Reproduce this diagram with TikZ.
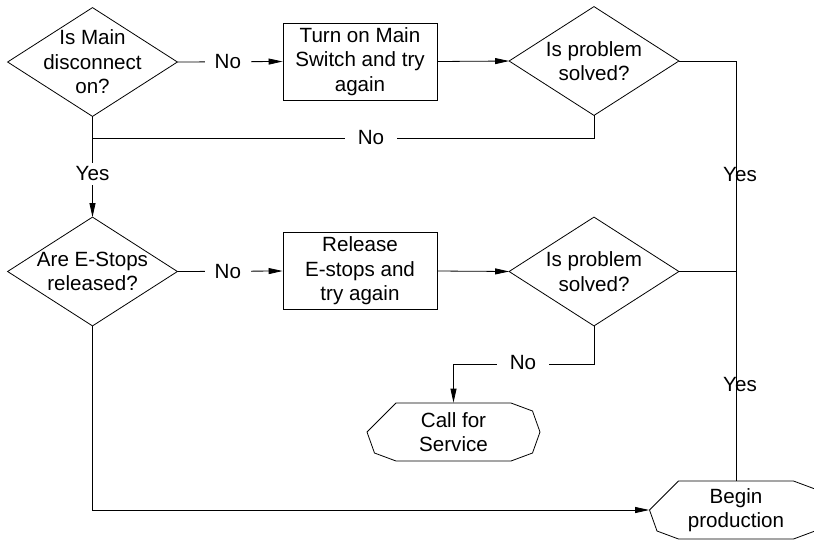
\documentclass[tikz,border=0pt]{standalone}
\usepackage{fontspec}
\setmainfont{Liberation Sans}
\usetikzlibrary{arrows.meta,calc}
\newcommand\termoutline[1]{\draw ($(#1.center)+(-57.5,-29)$) -- ++(115,0) -- ++(21.5,8) -- ++(7.5,21) -- ++(-7.5,21) -- ++(-21.5,8) -- ++(-115,0) -- ++(-21.5,-8) -- ++(-7.5,-21) -- cycle;}
\begin{document}
\begin{tikzpicture}[x=1pt,y=-1pt, line width=0.8pt,
  every node/.style={font=\fontsize{20.6}{24.6}\selectfont, align=center},
  decision/.style={minimum width=169pt, minimum height=108pt, inner sep=0pt},
  process/.style={draw, minimum width=154pt, minimum height=77pt, inner sep=0pt},
  terminal/.style={minimum width=173pt, minimum height=58pt, inner sep=0pt},
  lbl/.style={fill=white, inner xsep=10pt, inner ysep=4pt},
  wlbl/.style={fill=white, inner xsep=13pt, inner ysep=4pt},
  freelbl/.style={inner sep=0pt},
  arr/.style={-{Triangle[length=14pt,width=6pt]}}]
\useasboundingbox (0,0) rectangle (814,539);

% nodes
\node[decision] (d1) at (92.5,62) {Is Main\\disconnect\\on?};
\draw (d1.north) -- (d1.east) -- (d1.south) -- (d1.west) -- cycle;
\node[process] (b1) at (360,61.5) {Turn on Main\\Switch and try\\again};
\node[decision] (d2) at (594,61) {Is problem\\solved?};
\draw (d2.north) -- (d2.east) -- (d2.south) -- (d2.west) -- cycle;
\node[decision] (d3) at (92.5,271.5) {Are E-Stops\\released?};
\draw (d3.north) -- (d3.east) -- (d3.south) -- (d3.west) -- cycle;
\node[process] (b2) at (360,271) {Release\\E-stops and\\try again};
\node[decision] (d4) at (594,271.5) {Is problem\\solved?};
\draw (d4.north) -- (d4.east) -- (d4.south) -- (d4.west) -- cycle;
\node[terminal] (cs) at (453.5,432) {Call for\\Service};
\termoutline{cs}
\node[terminal] (bp) at (736,510) {Begin\\production};
\termoutline{bp}

% connectors
\draw[arr] (d1.east) -- (b1.west) node[lbl, pos=0.48] {No};
\draw[arr] (b1.east) -- (d2.west);
\draw (d2.east) -| (bp.north);
\node[freelbl] (y1) at (740,175) {Yes};
\draw (d4.east) -- (d4.east -| bp.north);
\node[freelbl] (y2) at (740,385) {Yes};

\coordinate (j2) at ($(d2.south)+(0,23)$);
\draw (d2.south) -- (j2) -- (j2 -| d1.south);
\node[wlbl] (n2) at (371,138) {No};
\draw[arr] (d1.south) -- (d3.north) node[lbl, pos=0.57] {Yes};

\draw[arr] (d3.east) -- (b2.west) node[lbl, pos=0.48] {No};
\draw[arr] (b2.east) -- (d4.west);
\coordinate (j3) at ($(d4.south)+(0,38)$);
\draw[arr] (d4.south) -- (j3) -| (cs.north);
\node[wlbl] (n4) at (523,363) {No};
\draw[arr] (d3.south) |- (bp.west);
\end{tikzpicture}
\end{document}
